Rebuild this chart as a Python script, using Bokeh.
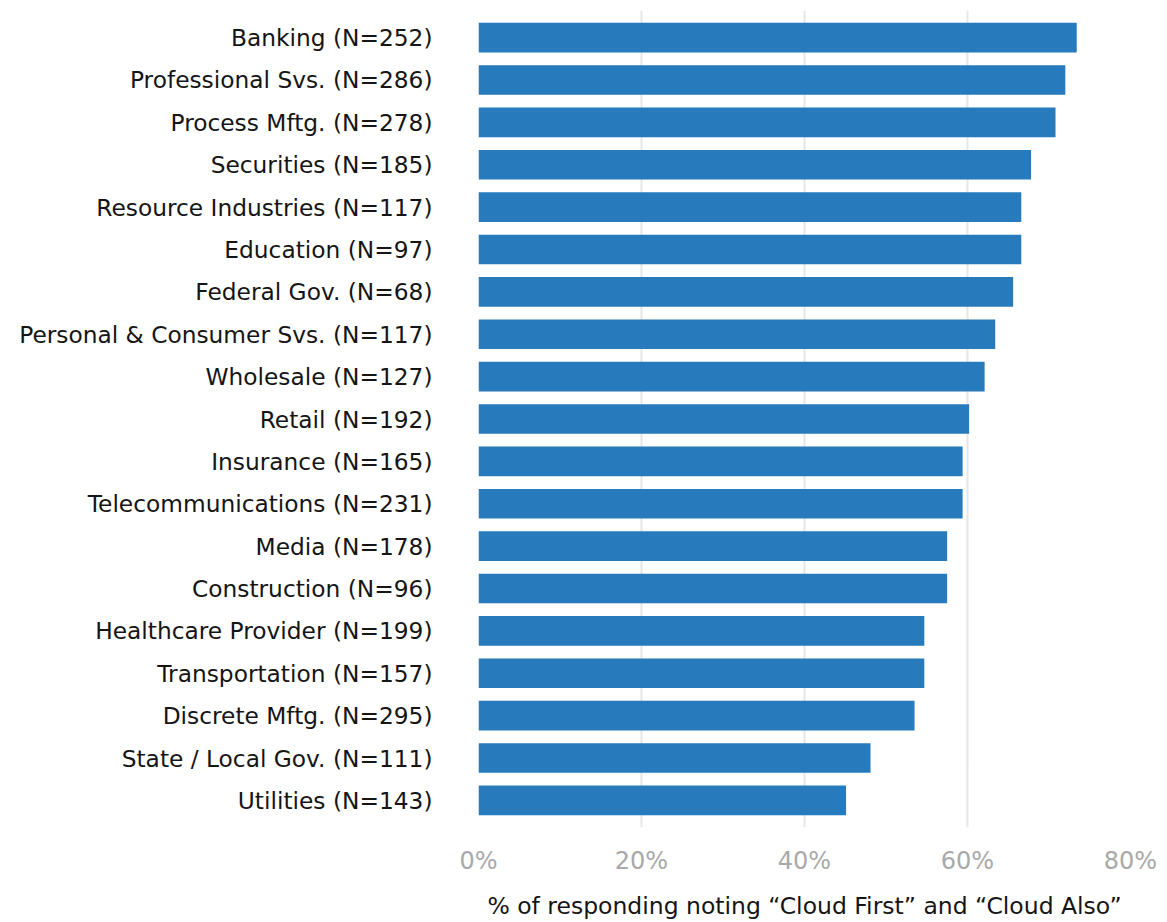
from bokeh.plotting import figure
from bokeh.models import FactorRange, Range1d, FixedTicker, ColumnDataSource
from bokeh.embed import file_html
from bokeh.resources import INLINE

industries = [
    "Banking (N=252)", "Professional Svs. (N=286)", "Process Mftg. (N=278)",
    "Securities (N=185)", "Resource Industries (N=117)", "Education (N=97)",
    "Federal Gov. (N=68)", "Personal & Consumer Svs. (N=117)", "Wholesale (N=127)",
    "Retail (N=192)", "Insurance (N=165)", "Telecommunications (N=231)",
    "Media (N=178)", "Construction (N=96)", "Healthcare Provider (N=199)",
    "Transportation (N=157)", "Discrete Mftg. (N=295)", "State / Local Gov. (N=111)",
    "Utilities (N=143)",
]
share_pct = [73.4, 72.0, 70.8, 67.8, 66.6, 66.6, 65.6, 63.4, 62.1, 60.2,
             59.4, 59.4, 57.5, 57.5, 54.7, 54.7, 53.5, 48.1, 45.1]
x_ticks = [0, 20, 40, 60, 80]
x_tick_labels = {0: "0%", 20: "20%", 40: "40%", 60: "60%", 80: "80%"}

FONT = "DejaVu Sans"

source = ColumnDataSource(dict(industry=industries, share=share_pct))

p = figure(
    width=1167, height=922,
    y_range=FactorRange(factors=list(reversed(industries)), range_padding=0.0147),
    x_range=Range1d(0, 80),
    output_backend="svg", toolbar_location=None,
    min_border_left=478, min_border_right=37, min_border_top=10, min_border_bottom=94,
)
p.outline_line_color = None

p.hbar(y="industry", right="share", left=0, height=0.7, source=source,
       fill_color="#277abc", line_color=None)

# x axis
p.xaxis.ticker = FixedTicker(ticks=x_ticks)
p.xaxis.major_label_overrides = x_tick_labels
p.xaxis.axis_line_color = None
p.xaxis.major_tick_line_color = None
p.xaxis.major_tick_out = 0
p.xaxis.major_tick_in = 0
p.xaxis.minor_tick_line_color = None
p.xaxis.major_label_text_font = FONT
p.xaxis.major_label_text_font_size = "24px"
p.xaxis.major_label_text_color = "#a9a9a9"
p.xaxis.major_label_standoff = 19
p.xaxis.axis_label = "% of responding noting \u201cCloud First\u201d and \u201cCloud Also\u201d"
p.xaxis.axis_label_text_font = FONT
p.xaxis.axis_label_text_font_size = "23.5px"
p.xaxis.axis_label_text_font_style = "normal"
p.xaxis.axis_label_text_color = "#151515"
p.xaxis.axis_label_standoff = 14

# y axis
p.yaxis.axis_line_color = None
p.yaxis.major_tick_line_color = None
p.yaxis.major_tick_out = 0
p.yaxis.major_tick_in = 0
p.yaxis.minor_tick_line_color = None
p.yaxis.major_label_text_font = FONT
p.yaxis.major_label_text_font_size = "23.3px"
p.yaxis.major_label_text_color = "#151515"
p.yaxis.major_label_standoff = 46

p.xgrid.grid_line_color = "#e6e6e6"
p.xgrid.grid_line_width = 2
p.ygrid.grid_line_color = None

open("out.html", "w").write(file_html(p, INLINE))
